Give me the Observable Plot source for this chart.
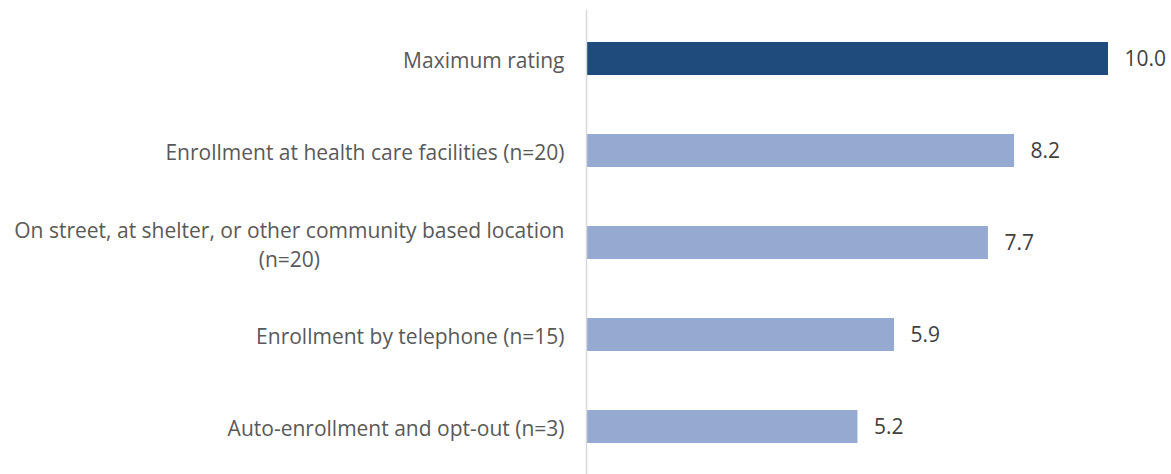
<!DOCTYPE html>
<html>
<head>
<meta charset="utf-8">
<script src="https://cdn.jsdelivr.net/npm/d3@7"></script>
<script src="https://cdn.jsdelivr.net/npm/@observablehq/plot@0.6"></script>
<style>
  html, body { margin: 0; padding: 0; background: #fff; }
  #chart svg { display: block; }
</style>
</head>
<body>
<div id="chart"></div>
<script>
const categories = [
  "Maximum rating",
  "Enrollment at health care facilities (n=20)",
  "On street, at shelter, or other community based location\n(n=20)",
  "Enrollment by telephone (n=15)",
  "Auto-enrollment and opt-out (n=3)"
];
const values = [10.0, 8.2, 7.7, 5.9, 5.2];
const kinds = ["max", "method", "method", "method", "method"];

const data = categories.map((c, i) => ({category: c, value: values[i], kind: kinds[i]}));

const font = "Open Sans, sans-serif";

const chart = Plot.plot({
  width: 1171,
  height: 474,
  marginLeft: 586,
  marginRight: 63,
  marginTop: 10,
  marginBottom: 0,
  style: {fontFamily: font, background: "#fff"},
  x: {domain: [0, 10], axis: null},
  y: {domain: categories, axis: null, paddingInner: 0.645, paddingOuter: 0.3225},
  color: {domain: ["max", "method"], range: ["#1f4a7c", "#95a9d1"]},
  marks: [
    Plot.barX(data, {x: "value", y: "category", fill: "kind"}),
    Plot.ruleX([0], {stroke: "#d9d9d9", strokeWidth: 1.5}),
    Plot.text(data, {x: "value", y: "category", text: d => d.value.toFixed(1), textAnchor: "start", dx: 16, fontSize: 21, fill: "#404040"}),
    Plot.text(data, {x: 0, y: "category", text: "category", textAnchor: "end", dx: -22, fontSize: 21, fill: "#595959", lineHeight: 1.4})
  ]
});

document.getElementById("chart").appendChild(chart);

// center the lines of multi-line labels within their right-aligned block
chart.querySelectorAll("text").forEach(t => {
  const spans = t.querySelectorAll("tspan");
  if (spans.length > 1) {
    const bb = t.getBBox();
    const cx = bb.x + bb.width / 2;
    const tx = +(t.getAttribute("x") || 0);
    t.setAttribute("text-anchor", "middle");
    spans.forEach(s => s.setAttribute("x", cx - tx + (+s.getAttribute("x") || 0)));
  }
});
</script>
</body>
</html>
